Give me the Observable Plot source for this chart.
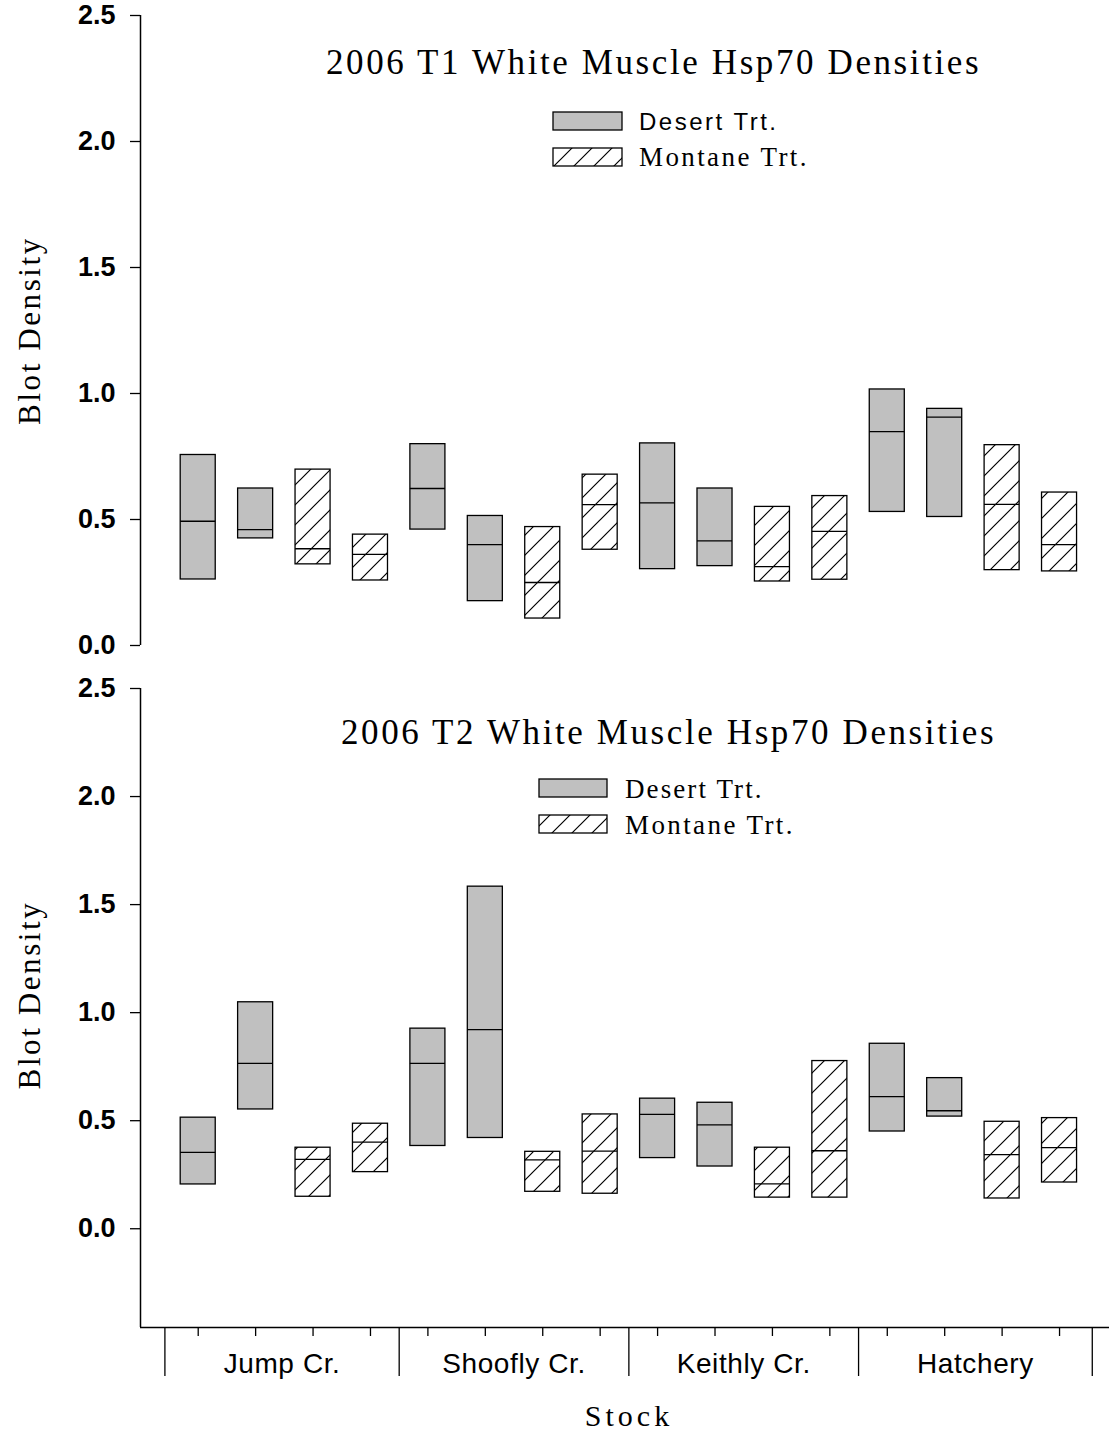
<!DOCTYPE html>
<html><head><meta charset="utf-8">
<script src="https://cdn.jsdelivr.net/npm/d3@7"></script>
<script src="https://cdn.jsdelivr.net/npm/@observablehq/plot@0.6"></script>
<style>
body{margin:0;background:#fff;}
#chart{width:1109px;height:1435px;position:relative;overflow:hidden;}
#chart svg{display:block;}
</style></head><body><div id="chart"></div>
<script>
// ---- data ----
const stocks = ["Jump Cr.", "Shoofly Cr.", "Keithly Cr.", "Hatchery"];
const treatments = ["Desert","Desert","Montane","Montane","Desert","Desert","Montane","Montane",
                    "Desert","Desert","Montane","Montane","Desert","Desert","Montane","Montane"];
const positions = [0,1,2,3,4,5,6,7,8,9,10,11,12,13,14,15];
const t1High   = [0.756,0.623,0.698,0.440,0.799,0.514,0.470,0.678,0.802,0.623,0.550,0.593,1.016,0.939,0.795,0.607];
const t1Median = [0.493,0.460,0.384,0.362,0.623,0.400,0.250,0.559,0.566,0.415,0.313,0.453,0.849,0.906,0.560,0.400];
const t1Low    = [0.262,0.425,0.322,0.258,0.460,0.176,0.107,0.380,0.303,0.315,0.254,0.261,0.530,0.510,0.299,0.294];
const t2High   = [0.514,1.048,0.375,0.486,0.926,1.583,0.356,0.529,0.602,0.583,0.375,0.776,0.856,0.697,0.495,0.512];
const t2Median = [0.353,0.765,0.321,0.401,0.765,0.921,0.319,0.359,0.529,0.481,0.208,0.361,0.611,0.546,0.343,0.375];
const t2Low    = [0.205,0.552,0.148,0.262,0.383,0.420,0.171,0.162,0.327,0.288,0.144,0.144,0.450,0.519,0.140,0.214];
const yTicks = [0.0, 0.5, 1.0, 1.5, 2.0, 2.5];
const groupBounds = [-0.58, 3.5, 7.5, 11.5, 15.57];
const titles = ["2006 T1 White Muscle Hsp70 Densities", "2006 T2 White Muscle Hsp70 Densities"];
const legendLabels = ["Desert Trt.", "Montane Trt."];
const yLabel = "Blot Density";
const xLabel = "Stock";

// ---- helpers ----
const SANS = "'Liberation Sans', Arial, Helvetica, sans-serif";
const SERIF = "'Liberation Serif', 'Times New Roman', serif";
const xDomain = [-1.005, 15.87];
const half = 0.305;
const GRAY = "#c0c0c0";

function rows(high, med, low) {
  return positions.map((p, i) => ({pos: p, treatment: treatments[i], high: high[i], median: med[i], low: low[i]}));
}

function addHatch(svg, id) {
  const defs = d3.select(svg).insert("defs", ":first-child");
  const pat = defs.append("pattern").attr("id", id).attr("patternUnits", "userSpaceOnUse")
    .attr("width", 20).attr("height", 20);
  pat.append("rect").attr("width", 20).attr("height", 20).attr("fill", "white");
  pat.append("path").attr("d", "M0,20L20,0M-5,5L5,-5M15,25L25,15")
    .attr("stroke", "black").attr("stroke-width", 1.2);
}

function spacing(svg, text, ls) {
  d3.select(svg).selectAll("text").filter(function(){ return this.textContent === text; })
    .style("letter-spacing", ls + "px");
}

function panel(cfg) {
  const data = rows(cfg.high, cfg.med, cfg.low);
  const hatch = "url(#" + cfg.hatchId + ")";
  const marks = [
    Plot.rect(data.filter(d => d.treatment === "Desert"), {
      x1: d => d.pos - half, x2: d => d.pos + half, y1: "low", y2: "high",
      fill: GRAY, stroke: "black", strokeWidth: 1.3
    }),
    Plot.rect(data.filter(d => d.treatment === "Montane"), {
      x1: d => d.pos - half, x2: d => d.pos + half, y1: "low", y2: "high",
      fill: hatch, stroke: "black", strokeWidth: 1.3
    }),
    Plot.ruleY(data, {y: "median", x1: d => d.pos - half, x2: d => d.pos + half, stroke: "black", strokeWidth: 1.3}),
    Plot.axisY({ticks: yTicks, tickSize: 10, tickPadding: 15, tickFormat: d3.format(".1f"),
      fontSize: 27, fontWeight: "bold", fontFamily: SANS, label: null, strokeWidth: 1.3}),
    Plot.ruleX([xDomain[0]], {y1: cfg.axisLow, y2: yTicks[yTicks.length - 1], stroke: "black", strokeWidth: 1.5}),
    Plot.text([yLabel], {frameAnchor: "left", textAnchor: "middle", rotate: -90, dx: -110, dy: cfg.labelDy,
      fontSize: 31, fontFamily: SERIF, fill: "black"})
  ];
  if (cfg.xAxis) {
    marks.push(
      Plot.ruleY([cfg.yDomain[0]], {stroke: "black", strokeWidth: 1.5}),
      Plot.axisX({ticks: positions, tickSize: 9, tickFormat: () => "", label: null, strokeWidth: 1.3}),
      Plot.axisX({ticks: groupBounds, tickSize: 49, tickFormat: () => "", label: null, strokeWidth: 1.3}),
      Plot.text(stocks, {x: (d, i) => (groupBounds[i] + groupBounds[i + 1]) / 2, frameAnchor: "bottom",
        dy: 45, fontSize: 28, fontFamily: SANS, fill: "black"}),
      Plot.text([xLabel], {frameAnchor: "bottom", dy: 98, dx: 4, fontSize: 30, fontFamily: SERIF, fill: "black"})
    );
  }
  const svg = Plot.plot({
    width: 1109, height: cfg.height,
    marginLeft: 140, marginRight: 0, marginTop: cfg.marginTop, marginBottom: cfg.marginBottom,
    x: {type: "linear", domain: xDomain, axis: null},
    y: {domain: cfg.yDomain, axis: null},
    style: {background: "white", color: "black", overflow: "visible"},
    marks
  });
  addHatch(svg, cfg.hatchId);
  spacing(svg, yLabel, 2.6);
  spacing(svg, xLabel, 4);
  stocks.forEach(s => spacing(svg, s, 0.6));
  const g = d3.select(svg).append("g").attr("text-anchor", "start");
  // title
  g.append("text").attr("x", cfg.titleX).attr("y", cfg.titleY).attr("text-anchor", "start")
    .attr("font-family", SERIF).attr("font-size", 35).style("letter-spacing", "2.6px")
    .attr("fill", "black").text(cfg.title);
  // legend
  const L = cfg.legend;
  [GRAY, "url(#" + cfg.hatchId + ")"].forEach((f, i) => {
    g.append("rect").attr("x", L.x).attr("y", L.ys[i]).attr("width", L.w).attr("height", 18)
      .attr("fill", f).attr("stroke", "black").attr("stroke-width", 1.3);
    g.append("text").attr("x", L.tx).attr("y", L.ys[i] + L.base).attr("text-anchor", "start")
      .attr("font-family", L.fonts[i]).attr("font-size", L.sizes[i]).style("letter-spacing", L.ls[i] + "px")
      .attr("fill", "black").text(legendLabels[i]);
  });
  return svg;
}

const chart = document.getElementById("chart");
chart.appendChild(panel({
  high: t1High, med: t1Median, low: t1Low, hatchId: "hatchTop",
  height: 665, marginTop: 15, marginBottom: 20, yDomain: [0, 2.5], axisLow: 0,
  labelDy: 0, xAxis: false,
  title: titles[0], titleX: 326, titleY: 74,
  legend: {x: 553, w: 69, ys: [112, 148], tx: 639, base: 18, fonts: [SANS, SERIF], sizes: [24, 27], ls: [2.5, 2.4]}
}));
chart.appendChild(panel({
  high: t2High, med: t2Median, low: t2Low, hatchId: "hatchBot",
  height: 770, marginTop: 23, marginBottom: 108, yDomain: [-0.457, 2.5], axisLow: -0.457,
  labelDy: -13, xAxis: true,
  title: titles[1], titleX: 341, titleY: 79,
  legend: {x: 539, w: 68, ys: [114, 150], tx: 625, base: 19, fonts: [SERIF, SERIF], sizes: [27, 27], ls: [2.1, 2.4]}
}));
</script></body></html>
